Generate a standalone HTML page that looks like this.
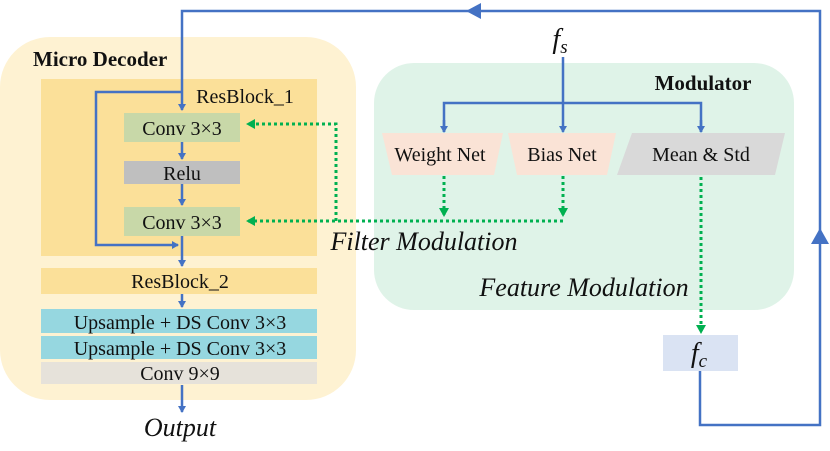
<!DOCTYPE html>
<html><head><style>body{margin:0;background:#fff}svg{display:block}text{font-family:"Liberation Serif",serif}</style></head><body>
<svg width="830" height="451" viewBox="0 0 830 451" xmlns="http://www.w3.org/2000/svg">
<defs>
<marker id="b" markerWidth="8" markerHeight="8" refX="6" refY="4" orient="auto" markerUnits="userSpaceOnUse"><path d="M0,0 L7,4 L0,8 z" fill="#4472c4"/></marker>
<marker id="g" markerWidth="10" markerHeight="10" refX="8" refY="5" orient="auto" markerUnits="userSpaceOnUse"><path d="M0,0 L9,5 L0,10 z" fill="#00b050"/></marker>
</defs>
<rect x="0" y="37" width="356" height="363" rx="50" fill="#fef2d2"/>
<rect x="374" y="63" width="420" height="247" rx="40" fill="#dff3e8"/>
<rect x="41" y="79" width="276" height="177" fill="#fbe099"/>
<rect x="41" y="268" width="276" height="26" fill="#fbe099"/>
<rect x="41" y="309" width="276" height="24" fill="#96d7e0"/>
<rect x="41" y="336" width="276" height="23" fill="#96d7e0"/>
<rect x="41" y="362" width="276" height="22" fill="#e6e2da"/>
<rect x="124" y="113" width="116" height="29" fill="#c8d8a8"/>
<rect x="124" y="161" width="116" height="23" fill="#bfbfbf"/>
<rect x="124" y="207" width="116" height="29" fill="#c8d8a8"/>
<polygon points="382,133 503,133 494,175 392,175" fill="#fae3d6"/>
<polygon points="508,133 616,133 607,175 517,175" fill="#fae3d6"/>
<polygon points="632,133 785,133 775,175 617,175" fill="#d9d9d9"/>
<rect x="663" y="335" width="75" height="36" fill="#dae3f3"/>
<g stroke="#4472c4" stroke-width="2.5" fill="none">
<polyline points="700,371 700,425 820,425 820,11 182,11 182,110" marker-end="url(#b)"/>
<polyline points="182,92 96,92 96,245 178,245" marker-end="url(#b)"/>
<line x1="182" y1="142" x2="182" y2="159" marker-end="url(#b)"/>
<line x1="182" y1="184" x2="182" y2="205" marker-end="url(#b)"/>
<line x1="182" y1="236" x2="182" y2="266" marker-end="url(#b)"/>
<line x1="182" y1="294" x2="182" y2="307" marker-end="url(#b)"/>
<line x1="182" y1="385" x2="182" y2="412" marker-end="url(#b)"/>
<line x1="563" y1="57" x2="563" y2="132" marker-end="url(#b)"/>
<polyline points="444,132 444,103 701,103 701,132"/>
<line x1="444" y1="120" x2="444" y2="132" marker-end="url(#b)"/>
<line x1="701" y1="120" x2="701" y2="132" marker-end="url(#b)"/>
</g>
<polygon points="466,11 481,3 481,19" fill="#4472c4"/>
<polygon points="820,228 811,244 829,244" fill="#4472c4"/>
<g stroke="#00b050" stroke-width="3" stroke-dasharray="3,3" fill="none">
<line x1="444" y1="176" x2="444" y2="216" marker-end="url(#g)"/>
<line x1="563" y1="176" x2="563" y2="216" marker-end="url(#g)"/>
<line x1="563" y1="221" x2="247" y2="221" marker-end="url(#g)"/>
<polyline points="336,221 336,124 247,124" marker-end="url(#g)"/>
<line x1="701" y1="177" x2="701" y2="333" marker-end="url(#g)"/>
</g>
<g font-size="20" fill="#111" text-anchor="middle">
<text x="33" y="66" text-anchor="start" font-weight="bold" font-size="21">Micro Decoder</text>
<text x="703" y="90" font-weight="bold" font-size="21">Modulator</text>
<text x="245" y="103">ResBlock_1</text>
<text x="182" y="135">Conv 3×3</text>
<text x="182" y="180">Relu</text>
<text x="182" y="229">Conv 3×3</text>
<text x="180" y="288">ResBlock_2</text>
<text x="180" y="329">Upsample + DS Conv 3×3</text>
<text x="180" y="355">Upsample + DS Conv 3×3</text>
<text x="180" y="380">Conv 9×9</text>
<text x="440" y="161">Weight Net</text>
<text x="562" y="161">Bias Net</text>
<text x="701" y="161">Mean &amp; Std</text>
<text x="180" y="436" font-style="italic" font-size="26">Output</text>
<text x="424" y="250" font-style="italic" font-size="26">Filter Modulation</text>
<text x="584" y="296" font-style="italic" font-size="26">Feature Modulation</text>
<text x="560" y="48" font-style="italic" font-size="28">f<tspan font-size="19" dy="5">s</tspan></text>
<text x="699" y="362" font-style="italic" font-size="28">f<tspan font-size="19" dy="5">c</tspan></text>
</g>
</svg>
</body></html>
